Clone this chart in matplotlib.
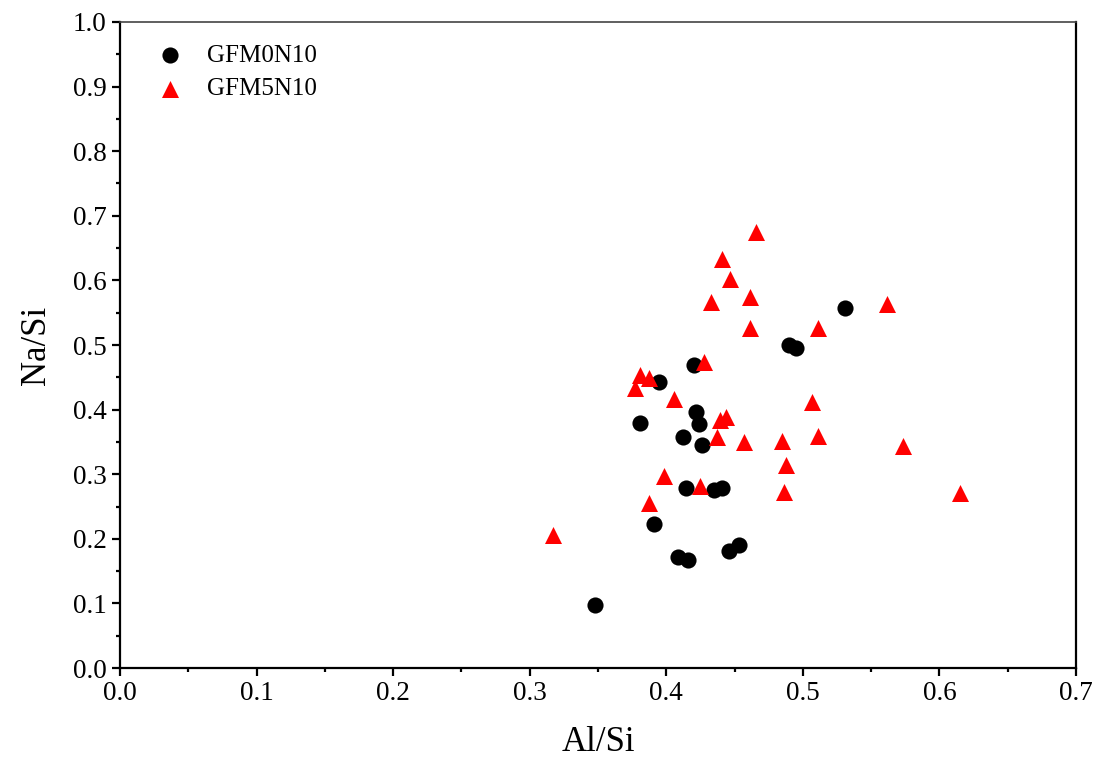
import numpy as np
import matplotlib
matplotlib.use('Agg')
import matplotlib.pyplot as plt
from matplotlib.ticker import MultipleLocator

plt.rcParams['font.family'] = ['Liberation Serif', 'DejaVu Serif']

# GFM0N10 (circles)
m0_al = [0.348, 0.391, 0.4086, 0.416, 0.446, 0.453, 0.4144, 0.435, 0.441,
         0.381, 0.412, 0.422, 0.424, 0.426, 0.395, 0.420, 0.490, 0.495, 0.531]
m0_na = [0.098, 0.223, 0.172, 0.167, 0.181, 0.190, 0.279, 0.276, 0.279,
         0.380, 0.357, 0.397, 0.377, 0.345, 0.442, 0.469, 0.500, 0.495, 0.558]

# GFM5N10 (triangles)
m5_al = [0.317, 0.377, 0.381, 0.387, 0.387, 0.398, 0.406, 0.425, 0.428, 0.433,
         0.437, 0.439, 0.444, 0.441, 0.447, 0.457, 0.461, 0.461, 0.466, 0.485,
         0.486, 0.488, 0.507, 0.511, 0.511, 0.562, 0.573, 0.615]
m5_na = [0.206, 0.433, 0.453, 0.449, 0.255, 0.297, 0.416, 0.281, 0.473, 0.567,
         0.358, 0.384, 0.388, 0.633, 0.602, 0.350, 0.574, 0.527, 0.675, 0.352,
         0.272, 0.314, 0.412, 0.527, 0.359, 0.564, 0.343, 0.271]

fig = plt.figure(figsize=(10.95, 7.58), dpi=100)
ax = fig.add_axes([0.1096, 0.1187, 0.873, 0.8523])

ax.scatter(m0_al, m0_na, s=135, c='black', marker='o', linewidths=0, label='GFM0N10', zorder=3)
ax.scatter(m5_al, m5_na, s=150, c='red', marker='^', linewidths=0, label='GFM5N10', zorder=3)

ax.set_xlim(0, 0.7)
ax.set_ylim(0, 1.0)
ax.xaxis.set_major_locator(MultipleLocator(0.1))
ax.xaxis.set_minor_locator(MultipleLocator(0.05))
ax.yaxis.set_major_locator(MultipleLocator(0.1))
ax.yaxis.set_minor_locator(MultipleLocator(0.05))
ax.xaxis.set_major_formatter(matplotlib.ticker.FormatStrFormatter('%.1f'))
ax.yaxis.set_major_formatter(matplotlib.ticker.FormatStrFormatter('%.1f'))

for side in ['left', 'bottom', 'right']:
    ax.spines[side].set_linewidth(1.6)
ax.spines['top'].set_linewidth(1.2)
ax.spines['top'].set_color('#444444')

ax.tick_params(axis='both', which='major', direction='out', length=6, width=1.6, labelsize=19.5)
ax.tick_params(axis='both', which='minor', direction='out', length=3, width=1.6)

ax.set_xlabel('Al/Si', fontsize=25, labelpad=14)
ax.set_ylabel('Na/Si', fontsize=25, labelpad=14)

ax.legend(loc='upper left', frameon=False, fontsize=18, handletextpad=0.5,
          borderaxespad=0.9, labelspacing=0.45, bbox_to_anchor=(-0.008, 1.016))

fig.savefig('out.png', dpi=100)
